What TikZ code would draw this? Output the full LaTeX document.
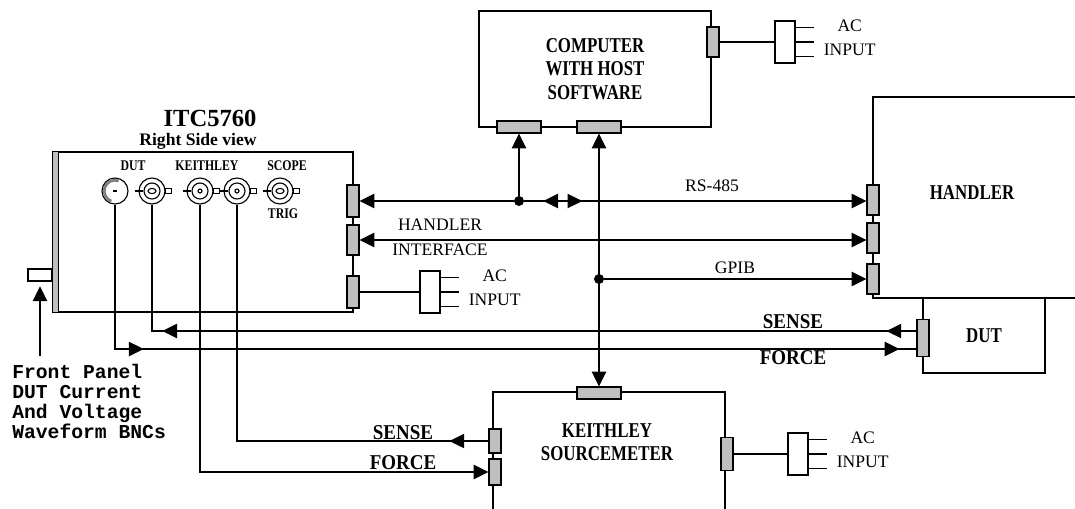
\documentclass[tikz,border=0pt]{standalone}
\usepackage{fontspec}
\setmainfont{Liberation Serif}
\setmonofont{Liberation Mono}
\newfontfamily\condfont{Liberation Serif}[FakeStretch=0.8]
\newfontfamily\semicondfont{Liberation Serif}[FakeStretch=0.9]
\usetikzlibrary{arrows.meta, decorations.markings}
\tikzset{
  wire/.style={line width=0.8pt},
  conn/.style={draw, fill=gray!50, line width=0.8pt, inner sep=0pt},
  vconn/.style={conn, minimum width=0.3cm, minimum height=#1},
  hconn/.style={conn, minimum width=1.1cm, minimum height=0.3cm},
  unit/.style={draw, line width=0.8pt, inner sep=0pt, align=center, font=\condfont\bfseries\fontsize{15}{16.5}\selectfont},
  unitname/.style={inner sep=0pt, align=center, font=\condfont\bfseries\fontsize{15}{16.5}\selectfont},
  sflabel/.style={inner sep=0pt, font=\semicondfont\bfseries\fontsize{15}{15}\selectfont},
  bnclabel/.style={inner sep=0pt, font=\condfont\bfseries\fontsize{10.5}{10.5}\selectfont},
  plug/.style={draw, line width=0.8pt, minimum width=0.5cm, minimum height=1.05cm, inner sep=0pt},
  bnc/.style={circle, draw, line width=0.8pt, minimum size=0.65cm, inner sep=0pt},
  dot/.style={circle, fill, minimum size=0.25cm, inner sep=0pt},
  wirelabel/.style={inner sep=0pt, align=center, font=\fontsize{12.5}{17}\selectfont},
  >={Triangle[length=0.37cm, width=0.36cm]},
}
\begin{document}
\begin{tikzpicture}[x=0.025cm, y=-0.025cm]
\useasboundingbox (0,0) rectangle (1075,508);

% units
\node[unit, minimum width=5.8cm, minimum height=2.9cm] (pc) at (595,69) {COMPUTER\\WITH HOST\\SOFTWARE};
\node[draw, line width=0.8pt, minimum width=7.5cm, minimum height=4cm, inner sep=0pt] (itc) at (203,232) {};
\draw[line width=0.8pt, fill=gray!50] (itc.north west) rectangle ([xshift=0.15cm]itc.south west);
\node[inner sep=0pt, font=\bfseries\fontsize{17.5}{17.5}\selectfont] (itcname) at (210,118) {ITC5760};
\node[inner sep=0pt, font=\bfseries\fontsize{12.5}{12.5}\selectfont] (itcview) at (198,141) {Right Side view};
\draw[wire] (1085,97) -| (873,298) -- (1085,298);
\node[unitname] (handler) at (972,193) {HANDLER};
\draw[wire] (493,515) |- (725,392) -- (725,515);
\node[unitname] (keithley) at (607,442) {KEITHLEY\\SOURCEMETER};
\node[unit, minimum width=3.05cm, minimum height=1.875cm] (dut) at (984,335.5) {DUT};

% connectors
\node[vconn=0.8cm] (itcP1) at (353,201) {};
\node[vconn=0.75cm] (itcP2) at (353,240) {};
\node[vconn=0.8cm] (itcP3) at (353,292) {};
\node[vconn=0.75cm] (hdP1) at (873,200) {};
\node[vconn=0.75cm] (hdP2) at (873,238) {};
\node[vconn=0.75cm] (hdP3) at (873,279) {};
\node[hconn] (pcP1) at (519,127) {};
\node[hconn] (pcP2) at (599,127) {};
\node[vconn=0.75cm] (pcP3) at (713,42) {};
\node[hconn] (kTop) at (599,393) {};
\node[vconn=0.6cm] (kP1) at (495,441) {};
\node[vconn=0.65cm] (kP2) at (495,472) {};
\node[vconn=0.82cm] (kP3) at (727,454) {};
\node[vconn=0.92cm] (dutP) at (923,338) {};
\node[draw, line width=0.8pt, minimum width=0.6cm, minimum height=0.3cm, inner sep=0pt] (fp) at (40,275) {};

% BNCs
\node[bnc] (bncA) at (115,191) {};
\draw[gray, line width=2pt] (bncA.center) ++(70:0.27cm) arc[start angle=70, end angle=250, radius=0.27cm];
\draw[line width=1pt] ([xshift=-0.05cm]bncA.center) -- ([xshift=0.05cm]bncA.center);
\foreach \n/\x/\rx/\ry in {B/152/0.1/0.065, C/200/0.05/0.05, D/237/0.05/0.05, E/280/0.1/0.065} {
  \node[bnc] (bnc\n) at (\x,191) {};
  \draw[wire] (bnc\n.center) circle[radius=0.2cm];
  \draw[wire] (bnc\n.center) ellipse[x radius=\rx cm, y radius=\ry cm];
  \draw[line width=1.6pt] ([xshift=-0.08cm]bnc\n.west) -- ([xshift=0.12cm]bnc\n.west);
  \draw[wire, fill=white] ([yshift=0.06cm]bnc\n.east) rectangle ++(0.15cm,-0.12cm);
}
\node[bnclabel] (lblDut) at (133,166) {DUT};
\node[bnclabel] (lblKei) at (207,166) {KEITHLEY};
\node[bnclabel] (lblScope) at (287,166) {SCOPE};
\node[bnclabel] (lblTrig) at (283,214) {TRIG};

% AC plugs
\node[plug] (plugA) at (430,292) {};
\node[plug] (plugB) at (785,42) {};
\node[plug] (plugC) at (798,454) {};
\foreach \p in {plugA, plugB, plugC} {
  \foreach \dy in {-0.37, 0, 0.37}
    \draw[wire] ([yshift=\dy cm]\p.east) -- ++(0.45cm,0);
  \node[wirelabel, anchor=west] at ([xshift=0.7cm, yshift=0.1cm]\p.east) {AC\\INPUT};
}
\draw[wire] (itcP3.east) -- (plugA.west);
\draw[wire] (pcP3.east) -- (plugB.west);
\draw[wire] (kP3.east) -- (plugC.west);

% buses
\node[dot] (rsdot) at (519,201) {};
\node[dot] (gpdot) at (599,279) {};
\draw[wire, ->] (rsdot) -- (itcP1.east);
\draw[wire, ->] (rsdot) -- (pcP1.south);
\draw[wire, ->, decoration={markings, mark=at position 0.475cm with {\arrowreversed{>}}, mark=at position 1.45cm with {\arrow{>}}}, postaction={decorate}] (rsdot) -- (hdP1.west |- rsdot);
\draw[wire, <->] (itcP2.east) -- (hdP2.west |- itcP2);
\draw[wire, <->] (pcP2.south) -- (kTop.north);
\draw[wire, ->] (gpdot) -- (hdP3.west);
\node[wirelabel] (rslbl) at (712,186) {RS-485};
\node[wirelabel] (hilbl) at (440,237) {HANDLER\\[1pt]INTERFACE};
\node[wirelabel] (gplbl) at (735,268) {GPIB};

% sense and force lines
\draw[wire, decoration={markings, mark=at position 4.325cm with {\arrow{>}}, mark=at position -0.425cm with {\arrow{>}}}, postaction={decorate}] (bncA.south) |- ([yshift=-0.275cm]dutP.west);
\draw[wire, decoration={markings, mark=at position 0.75cm with {\arrow{>}}, mark=at position 18.85cm with {\arrow{>}}}, postaction={decorate}] ([yshift=0.175cm]dutP.west) -| (bncB.south);
\draw[wire, ->] (bncC.south) |- (kP2.west);
\draw[wire, decoration={markings, mark=at position 0.975cm with {\arrow{>}}}, postaction={decorate}] (kP1.west) -| (bncD.south);
\node[sflabel] (senseR) at (793,322) {SENSE};
\node[sflabel] (forceR) at (793,358) {FORCE};
\node[sflabel] (senseK) at (403,433) {SENSE};
\node[sflabel] (forceK) at (403,463) {FORCE};

% front panel
\node[inner sep=0pt, anchor=north west, align=left, font=\ttfamily\bfseries\fontsize{14}{14.2}\selectfont] (fptext) at (12,364) {Front Panel\\DUT Current\\And Voltage\\Waveform BNCs};
\draw[wire, ->, shorten >=0.12cm] ([yshift=0.2cm]fptext.north -| fp.south) -- (fp.south);
\end{tikzpicture}
\end{document}
